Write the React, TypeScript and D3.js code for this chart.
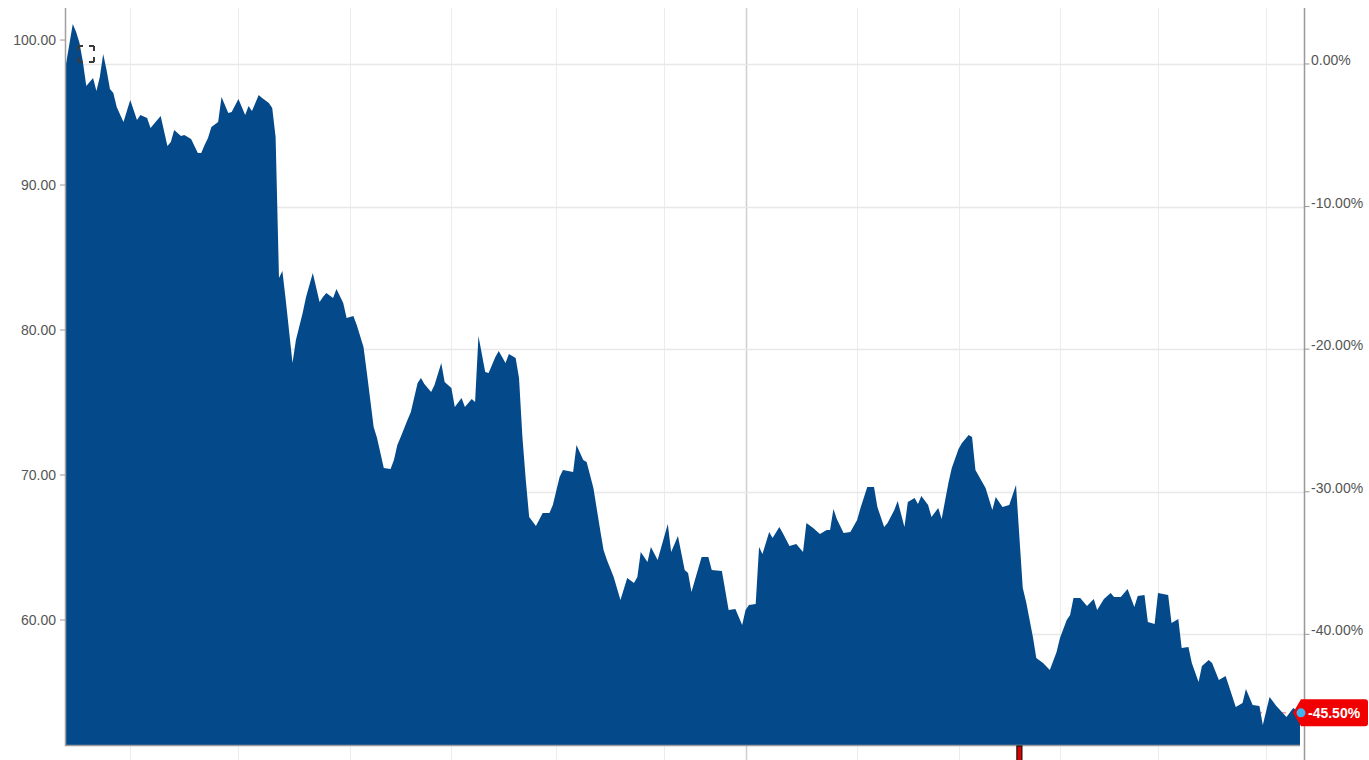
import React from 'react';
import * as d3 from 'd3';

// Day offsets (calendar days from start) and closing prices
const days = [0,2,3,4,5,6,8,9,10,11,12,13,14,15,17,19,21,22,24,25,28,30,31,32,34,35,37,39,40,41,42,43,45,46,48,49,51,53,54,55,57,58,60,61,62,63,64,65,67,68,70,71,73,75,76,77,79,80,82,83,85,86,88,89,90,91,92,94,96,97,98,99,101,102,104,105,106,108,109,111,112,114,115,117,118,120,121,122,124,125,127,128,130,131,133,134,135,136,137,139,141,143,144,146,147,150,151,153,154,156,158,159,160,162,164,166,168,169,170,172,173,175,178,179,181,183,184,185,188,190,191,194,196,198,200,201,202,204,205,206,208,209,211,212,214,216,218,219,221,223,225,226,227,228,230,232,234,235,237,239,240,242,243,245,246,248,249,251,252,253,255,256,258,259,261,262,264,265,267,268,269,271,272,274,275,277,279,281,282,283,284,286,287,289,291,293,294,296,297,298,300,302,304,305,307,309,310,312,314,316,317,319,320,322,323,326,327,329,330,332,333,335,336,338,339,341,343,346,348,349,351,353,354,356,358,361,363,365];

const prices = [98.35,101.10,100.55,99.79,98.48,96.83,97.38,96.48,97.45,99.03,97.93,96.62,96.34,95.38,94.34,95.86,94.48,94.83,94.62,93.93,94.76,92.69,92.97,93.79,93.38,93.45,93.17,92.21,92.21,92.76,93.24,94.00,94.34,96.07,94.97,95.03,95.93,94.83,95.45,95.10,96.21,96.00,95.66,95.31,93.31,83.59,84.07,82.07,77.72,79.31,81.17,82.28,83.93,81.93,82.28,82.55,82.21,82.83,81.86,80.83,80.97,80.34,78.83,77.03,75.17,73.31,72.55,70.48,70.41,71.03,72.07,72.62,73.79,74.34,76.34,76.69,76.28,75.72,76.21,77.72,76.41,76.00,74.69,75.31,74.69,75.24,75.03,79.59,77.10,77.03,78.14,78.55,77.72,78.34,78.07,76.69,72.62,69.66,67.10,66.48,67.38,67.38,67.93,69.86,70.34,70.21,72.07,71.03,70.90,69.10,66.21,64.83,64.14,62.97,61.38,62.90,62.55,62.97,64.69,64.00,65.03,64.14,66.62,64.69,65.79,63.45,63.24,61.93,64.34,64.34,63.45,63.38,60.69,60.76,59.66,60.69,61.03,61.10,65.03,64.55,66.07,65.66,66.41,66.00,65.10,65.24,64.69,66.69,66.34,65.93,66.21,66.21,67.66,66.97,66.00,66.07,66.90,67.72,69.17,69.17,67.79,66.41,66.69,67.59,68.21,66.41,68.14,68.41,68.00,68.55,67.93,67.10,67.72,66.97,69.45,70.48,71.79,72.21,72.76,72.62,70.34,69.52,69.10,67.59,68.48,67.79,67.93,69.31,65.72,62.21,61.24,58.83,57.38,57.03,56.55,57.79,58.76,60.00,60.34,61.52,61.52,60.97,61.45,60.69,61.45,61.86,61.59,61.59,62.14,60.90,61.66,61.72,59.86,59.72,61.86,61.72,59.79,60.07,58.07,58.14,57.03,55.72,56.83,57.24,57.03,55.86,56.14,54.00,54.28,55.24,54.14,54.07,52.76,54.69,54.07,53.31,53.93,53.60];

const priceTicks = [60, 70, 80, 90, 100];
const pctTicks = [0, -10, -20, -30, -40];
const gridDays = [19, 51, 84, 114, 145, 177, 201, 234, 264, 294, 323, 355];
const majorGridDay = 201;
const eventDay = 282;

const FONT = '"Liberation Sans", Arial, sans-serif';
const locale = d3.formatLocale({ decimal: '.', thousands: ',', grouping: [3], currency: ['', ''], minus: '-' });

export default function App() {
  const left = 66, right = 1300, axisR = 1304.5, top = 8, bottom = 745, H = 760, W = 1369;
  const x = d3.scaleLinear().domain([0, 365]).range([left, right]);
  const y = d3.scaleLinear().domain([51.38, 102.21]).range([bottom, top]);
  const base = prices[0];
  const yPct = (p: number) => y(base * (1 + p / 100));
  const data: [number, number][] = days.map((d, i) => [d, prices[i]]);
  const areaPath = d3.area<[number, number]>()
    .x(d => x(d[0]))
    .y0(bottom)
    .y1(d => y(d[1]))
    .curve(d3.curveLinear)(data) as string;
  const last = prices[prices.length - 1];
  const lastPct = (last / base - 1) * 100;
  const ly = y(last);
  const lx = x(days[days.length - 1]);
  const f2 = locale.format('.2f');

  return (
    <svg width={W} height={H} style={{ position: 'absolute', left: 0, top: 0, background: '#fff' }} fontFamily={FONT}>
      {gridDays.map(d => (
        <line key={'g' + d} x1={Math.round(x(d)) + 0.5} x2={Math.round(x(d)) + 0.5} y1={top} y2={H}
          stroke={d === majorGridDay ? '#cfcfcf' : '#ececec'} strokeWidth={d === majorGridDay ? 1.5 : 1} />
      ))}
      {pctTicks.map(p => (
        <line key={'h' + p} x1={left} x2={axisR} y1={Math.round(yPct(p)) + 0.5} y2={Math.round(yPct(p)) + 0.5}
          stroke="#e8e8e8" strokeWidth={1.5} />
      ))}
      <line x1={left} x2={lx} y1={ly} y2={ly} stroke="#f29a9a" strokeDasharray="4 4" strokeWidth={1.5} />
      <path d={areaPath} fill="#044a8b" />
      <line x1={left - 0.5} x2={left - 0.5} y1={top} y2={bottom + 1} stroke="#a0a0a0" strokeWidth={1.5} />
      <line x1={left - 1} x2={right} y1={bottom + 0.5} y2={bottom + 0.5} stroke="#9a9a9a" strokeWidth={1.5} />
      <line x1={axisR} x2={axisR} y1={top} y2={H} stroke="#999" strokeWidth={1.5} />
      {priceTicks.map(t => (
        <g key={'l' + t}>
          <line x1={left - 6} x2={left - 1} y1={y(t)} y2={y(t)} stroke="#999" />
          <text x={56} y={y(t)} textAnchor="end" dominantBaseline="central" fontSize={14} fill="#555">{f2(t)}</text>
        </g>
      ))}
      {pctTicks.map(p => (
        <g key={'r' + p}>
          <line x1={axisR} x2={axisR + 5} y1={yPct(p)} y2={yPct(p)} stroke="#999" />
          <text x={1311} y={yPct(p) - 4} dominantBaseline="central" fontSize={14} fill="#555">{f2(p) + '%'}</text>
        </g>
      ))}
      <rect x={x(eventDay) - 2.5} y={bottom + 1} width={5} height={H - bottom} fill="#e00000" stroke="#111" strokeWidth={1.2} />
      <rect x={78} y={46} width={16} height={16} fill="none" stroke="#3a3a3a" strokeWidth={2} strokeDasharray="5 6 5 0" />
      <path d={`M${lx - 7},${ly} L${lx + 1},${ly - 13.5} H${W - 4} Q${W - 1},${ly - 13.5} ${W - 1},${ly - 10.5} V${ly + 10.5} Q${W - 1},${ly + 13.5} ${W - 4},${ly + 13.5} H${lx + 1} Z`} fill="#f00000" />
      <circle cx={lx + 1} cy={ly} r={4.5} fill="#3fb6f2" />
      <text x={1308} y={ly} dominantBaseline="central" fontSize={14} fontWeight="bold" fill="#fff">{f2(lastPct) + '%'}</text>
    </svg>
  );
}
